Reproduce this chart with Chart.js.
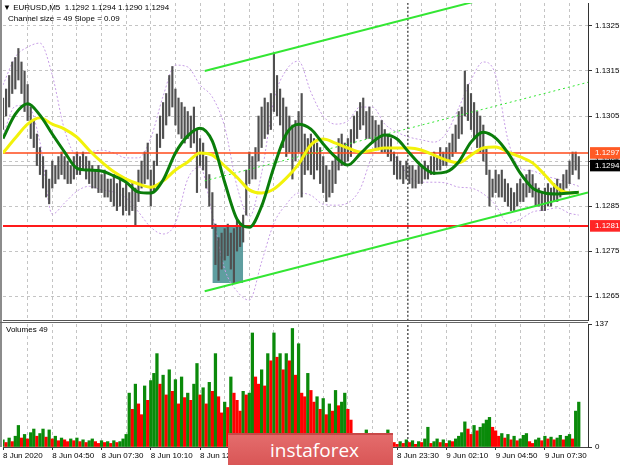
<!DOCTYPE html>
<html>
<head>
<meta charset="utf-8">
<script src="https://cdn.jsdelivr.net/npm/chart.js@4.4.1/dist/chart.umd.min.js"></script>
<style>
  html, body { margin: 0; padding: 0; background: #fff; }
  #wrap { position: relative; width: 620px; height: 465px; overflow: hidden; font-family: "Liberation Sans", Arial, sans-serif; }
  canvas { position: absolute; left: 0; }
  #prixChart { top: 0; }
  #volChart { top: 300px; }
  .txt { position: absolute; font-size: 8px; line-height: 9px; color: #000; white-space: pre; }
  .cadre { position: absolute; background: #8c8c8c; }
  #logo {
    position: absolute; left: 228px; top: 433px; width: 165px; height: 32px;
    background: linear-gradient(to bottom, #e46c6c, #d95656);
    border-top: 2px solid #c94848; box-sizing: border-box;
    color: #fff; font-family: "Open Sans", sans-serif; font-size: 19px; line-height: 30px;
    padding-left: 42px;
  }
</style>
</head>
<body>
<div id="wrap">
  <canvas id="prixChart" width="620" height="322"></canvas>
  <canvas id="volChart" width="620" height="165"></canvas>
  <div class="cadre" style="left:0;top:0;width:2px;height:447px"></div>
  <div class="cadre" style="left:0;top:322px;width:588px;height:1px;background:#666"></div>
  <div class="txt" id="entete" style="left:3px;top:3px"></div>
  <div class="txt" style="left:8px;top:14px">Channel size = 49 Slope = 0.09</div>
  <div class="txt" style="left:6px;top:325px">Volumes 49</div>
  <div id="logo">instaforex</div>
</div>
<script>
// ==================== DONNÉES ====================

// ÉTIQUETTES DE TEMPS (UNE TOUTES LES 32 BOUGIES M5)
const timeLabels = ["8 Jun 2020", "8 Jun 04:50", "8 Jun 07:30", "8 Jun 10:10", "8 Jun 12:50", "8 Jun 15:30",
    "8 Jun 18:10", "8 Jun 20:50", "8 Jun 23:30", "9 Jun 02:10", "9 Jun 04:50", "9 Jun 07:30"];

// GRADUATIONS DE PRIX
const priceTicks = [1.1265, 1.1275, 1.1285, 1.1295, 1.1305, 1.1315, 1.1325];

// DERNIÈRE BOUGIE (OHLC)
const lastBar = [1.1292, 1.1294, 1.1290, 1.1294];

// PLUS HAUTS / PLUS BAS (UNE VALEUR TOUTES LES 2 BOUGIES)
const highs = [
    1.1309, 1.1311, 1.1314, 1.1317, 1.1318, 1.1320, 1.1317, 1.1315, 1.1312, 1.1307,
    1.1304, 1.1301, 1.1298, 1.1296, 1.1293, 1.1291, 1.1295, 1.1294, 1.1296, 1.1297,
    1.1296, 1.1295, 1.1294, 1.1296, 1.1297, 1.1296, 1.1297, 1.1296, 1.1295, 1.1294,
    1.1293, 1.1294, 1.1292, 1.1293, 1.1291, 1.1291, 1.1292, 1.1290, 1.1291, 1.1289,
    1.1290, 1.1288, 1.1290, 1.1289, 1.1293, 1.1295, 1.1297, 1.1299, 1.1293, 1.1295,
    1.1301, 1.1305, 1.1308, 1.1310, 1.1314, 1.1316, 1.1311, 1.1309, 1.1308, 1.1307,
    1.1306, 1.1305, 1.1307, 1.1302, 1.1300, 1.1299, 1.1296, 1.1292, 1.1288, 1.1281,
    1.1278, 1.1279, 1.1280, 1.1281, 1.1279, 1.1280, 1.1282, 1.1281, 1.1283, 1.1293,
    1.1297, 1.1296, 1.1298, 1.1305, 1.1307, 1.1309, 1.1308, 1.1310, 1.1319, 1.1314,
    1.1311, 1.1309, 1.1307, 1.1305, 1.1303, 1.1304, 1.1306, 1.1310, 1.1301, 1.1300,
    1.1301, 1.1300, 1.1299, 1.1298, 1.1296, 1.1294, 1.1293, 1.1295, 1.1296, 1.1300,
    1.1301, 1.1299, 1.1300, 1.1302, 1.1305, 1.1306, 1.1308, 1.1309, 1.1306, 1.1307,
    1.1305, 1.1304, 1.1303, 1.1304, 1.1302, 1.1301, 1.1300, 1.1297, 1.1296, 1.1295,
    1.1294, 1.1295, 1.1294, 1.1294, 1.1293, 1.1294, 1.1294, 1.1295, 1.1294, 1.1296,
    1.1297, 1.1296, 1.1298, 1.1297, 1.1298, 1.1299, 1.1301, 1.1303, 1.1306, 1.1307,
    1.1315, 1.1312, 1.1310, 1.1308, 1.1306, 1.1305, 1.1303, 1.1298, 1.1293, 1.1291,
    1.1293, 1.1292, 1.1293, 1.1291, 1.1290, 1.1289, 1.1288, 1.1290, 1.1291, 1.1290,
    1.1292, 1.1293, 1.1292, 1.1290, 1.1289, 1.1288, 1.1289, 1.1290, 1.1289, 1.1290,
    1.1291, 1.1290, 1.1292, 1.1293, 1.1295, 1.1297, 1.1297, 1.1296
];
const lows = [
    1.1302, 1.1305, 1.1307, 1.1310, 1.1311, 1.1313, 1.1310, 1.1306, 1.1304, 1.1300,
    1.1298, 1.1294, 1.1292, 1.1289, 1.1287, 1.12855, 1.1289, 1.1290, 1.1291, 1.1292,
    1.1291, 1.1290, 1.1290, 1.1291, 1.1292, 1.1292, 1.1293, 1.1291, 1.1290, 1.1289,
    1.1289, 1.1288, 1.1288, 1.1287, 1.1287, 1.1286, 1.1285, 1.1284, 1.1285, 1.1283,
    1.1284, 1.1283, 1.1284, 1.12806, 1.1286, 1.1289, 1.1290, 1.1291, 1.1285, 1.1288,
    1.1294, 1.1298, 1.1300, 1.1303, 1.1305, 1.1307, 1.1303, 1.1301, 1.1300, 1.1299,
    1.1300, 1.1298, 1.1299, 1.1288, 1.1294, 1.1293, 1.1289, 1.1285, 1.1280, 1.1272,
    1.12685, 1.1271, 1.1273, 1.1274, 1.1271, 1.12679, 1.1275, 1.1276, 1.1277, 1.1283,
    1.1290, 1.1291, 1.1291, 1.1295, 1.1298, 1.1300, 1.1301, 1.1302, 1.1306, 1.1305,
    1.1303, 1.1298, 1.1296, 1.1297, 1.1291, 1.1295, 1.1297, 1.1287, 1.1292, 1.1293,
    1.1292, 1.1291, 1.1293, 1.1290, 1.1288, 1.1286, 1.1287, 1.1288, 1.1290, 1.1293,
    1.1294, 1.1294, 1.1295, 1.1296, 1.1299, 1.1300, 1.1302, 1.1303, 1.1300, 1.1300,
    1.1299, 1.1298, 1.1298, 1.1297, 1.1297, 1.1296, 1.1295, 1.1292, 1.1291, 1.1291,
    1.1290, 1.1291, 1.1290, 1.1289, 1.1289, 1.1290, 1.1290, 1.1291, 1.1291, 1.1292,
    1.1292, 1.1293, 1.1293, 1.1294, 1.1294, 1.1295, 1.1296, 1.1297, 1.1300, 1.1301,
    1.1305, 1.1304, 1.1302, 1.1300, 1.1298, 1.1297, 1.1295, 1.1292, 1.1285, 1.1287,
    1.1288, 1.1287, 1.1287, 1.1286, 1.1285, 1.1284, 1.1284, 1.1285, 1.1286, 1.1286,
    1.1287, 1.1288, 1.1287, 1.1285, 1.1285, 1.1284, 1.1284, 1.1285, 1.1285, 1.1286,
    1.1286, 1.1287, 1.1288, 1.1289, 1.1290, 1.1292, 1.1293, 1.1291
];

// VOLUMES (MÊMES BOUGIES)
const volumes = [
    8, 5, 10, 6, 12, 24, 10, 14, 9, 16,
    20, 12, 15, 20, 11, 19, 9, 12, 7, 10,
    8, 6, 9, 7, 10, 6, 8, 5, 7, 9,
    6, 4, 7, 5, 6, 4, 7, 5, 6, 9,
    14, 60, 42, 70, 48, 36, 68, 52, 74, 82,
    104, 70, 80, 58, 86, 62, 75, 48, 78, 55,
    60, 52, 70, 93, 58, 66, 48, 72, 62, 104,
    56, 38, 50, 44, 78, 60, 52, 40, 62, 58,
    60, 127, 78, 70, 86, 68, 104, 96, 127, 100,
    104, 86, 104, 96, 132, 80, 115, 60, 56, 82,
    63, 50, 56, 42, 54, 36, 48, 40, 63, 46,
    50, 60, 42, 30, 8, 6, 10, 5, 19, 8,
    12, 14, 6, 9, 4, 19, 15, 5, 3, 6,
    4, 8, 5, 7, 3, 6, 5, 9, 22, 4,
    6, 9, 5, 8, 4, 7, 6, 9, 12, 16,
    28, 20, 14, 24, 18, 22, 26, 30, 33, 22,
    18, 12, 15, 10, 14, 8, 12, 7, 9, 13,
    15, 6, 4, 8, 10, 7, 12, 9, 11, 8,
    10, 13, 8, 12, 14, 9, 40, 50
];

// MOYENNES MOBILES ET BANDES (LUES TOUTES LES 8 BOUGIES)
const maBars = [0, 8, 16, 24, 32, 40, 48, 56, 64, 72, 80, 88, 96, 104, 112, 120, 128, 136, 144, 152, 160, 168,
    176, 184, 192, 200, 208, 216, 224, 232, 240, 248, 256, 264, 272, 280, 288, 296, 304, 312, 320, 328, 336,
    344, 352, 360, 368, 374];
const maGreen = [1.1300, 1.13054, 1.13077, 1.13052, 1.1301, 1.1297, 1.12934, 1.1293, 1.12928, 1.12917,
    1.12903, 1.12881, 1.12879, 1.12908, 1.12968, 1.13006, 1.13023, 1.12994, 1.12903, 1.12821,
    1.12803, 1.1285, 1.12937, 1.1301, 1.13032, 1.13021, 1.12988, 1.12959, 1.12941, 1.12966,
    1.12992, 1.13008, 1.12999, 1.12968, 1.12939, 1.12923, 1.12926, 1.12948, 1.12992, 1.13014,
    1.13001, 1.12968, 1.12923, 1.1289, 1.12879, 1.12877, 1.12879, 1.12881];
const maYellow = [1.12968, 1.13001, 1.13032, 1.13046, 1.13032, 1.13021, 1.13003, 1.12974, 1.12948, 1.12926,
    1.1291, 1.12899, 1.12892, 1.12906, 1.1293, 1.12948, 1.12968, 1.12963, 1.12939, 1.12914,
    1.12886, 1.12879, 1.12888, 1.12912, 1.12943, 1.12986, 1.12999, 1.1299, 1.12979, 1.1297,
    1.12974, 1.12979, 1.12979, 1.12979, 1.12974, 1.12963, 1.12952, 1.12946, 1.12963, 1.12979,
    1.12981, 1.1297, 1.12959, 1.12946, 1.12919, 1.1289, 1.12879, 1.12881];
const bandUpper = [1.13119, 1.13181, 1.13203, 1.13212, 1.13141, 1.13019, 1.12963, 1.1297, 1.12974, 1.12968,
    1.12957, 1.12957, 1.13001, 1.13094, 1.13163, 1.13159, 1.13119, 1.13092, 1.13026, 1.12894,
    1.12826, 1.12923, 1.13086, 1.13152, 1.13172, 1.13103, 1.1305, 1.13032, 1.13039, 1.1307,
    1.1307, 1.13032, 1.13014, 1.13003, 1.12997, 1.12992, 1.13012, 1.13068, 1.1313, 1.1317,
    1.13141, 1.12997, 1.12934, 1.12928, 1.12917, 1.1291, 1.12901, 1.12894];
const bandLower = [1.13008, 1.13072, 1.13074, 1.12992, 1.12832, 1.12857, 1.12883, 1.12894, 1.12886, 1.12881,
    1.12868, 1.12837, 1.12803, 1.12788, 1.12812, 1.1291, 1.12937, 1.1283, 1.1271, 1.12661,
    1.12641, 1.12726, 1.12812, 1.12854, 1.12879, 1.12874, 1.12854, 1.12852, 1.12857, 1.12888,
    1.12961, 1.12977, 1.12954, 1.12914, 1.12903, 1.12903, 1.12901, 1.12892, 1.1289, 1.12877,
    1.12852, 1.12812, 1.12821, 1.12837, 1.12841, 1.12846, 1.12834, 1.1283];

// CANAL DE RÉGRESSION
const channelBars = [131, 380];
const channelTop = [1.1315, 1.13369];
const channelMid = [1.12906, 1.13125];
const channelBottom = [1.12661, 1.1288];

// NIVEAUX HORIZONTAUX ET RECTANGLE
const levelOrange = 1.12968;
const levelRed = 1.12806;
const lastPrice = lastBar[3];
const rectBars = [136, 156];
const rectPrices = [1.12679, 1.12806];
const separatorBar = 263;
const volumeMax = 137;

// ==================== RÉGLAGES COMMUNS ====================
Chart.defaults.font.family = "'Liberation Sans', Arial, sans-serif";
Chart.defaults.font.size = 8;
Chart.defaults.color = "#000";

const xMax = 380;
const gridBars = [];
for (let b = 0; b <= 368; b += 16) gridBars.push(b);

const tagColors = {};
tagColors[levelOrange.toFixed(4)] = "#ff5a24";
tagColors[levelRed.toFixed(4)] = "#ff2626";
tagColors[lastPrice.toFixed(4)] = "#000000";

const hLine = (value, from, to) => [{ x: from, y: value }, { x: to, y: value }];
const series = (ys) => maBars.map((b, i) => ({ x: b, y: ys[i] }));

// PAS DE MARGE AUTOMATIQUE POUR LES ÉTIQUETTES
const noPad = (scale) => {
    scale.paddingTop = 0;
    scale.paddingBottom = 0;
    scale.paddingLeft = 0;
    scale.paddingRight = 0;
};

// EN-TÊTE
document.getElementById("entete").textContent = "\u25BC EURUSD,M5  " + lastBar.map(v => v.toFixed(4)).join(" ");

// ==================== GRAPHIQUE DES PRIX ====================
new Chart(document.getElementById("prixChart"), {
    type: "bar",
    data: {
        datasets: [
            {
                type: "line",
                data: rectBars.map(b => ({ x: b, y: rectPrices[1] })),
                fill: { value: rectPrices[0] },
                backgroundColor: "#5f9ea0",
                borderWidth: 0,
                pointRadius: 0,
                order: 9
            },
            {
                type: "line",
                data: hLine(lastPrice, 0, xMax),
                borderColor: "#c0c0c0",
                borderWidth: 1,
                pointRadius: 0,
                order: 8
            },
            {
                type: "line",
                data: series(bandUpper),
                borderColor: "#c79ee6",
                borderWidth: 1,
                borderDash: [2, 2],
                pointRadius: 0,
                cubicInterpolationMode: "monotone",
                order: 7
            },
            {
                type: "line",
                data: series(bandLower),
                borderColor: "#c79ee6",
                borderWidth: 1,
                borderDash: [2, 2],
                pointRadius: 0,
                cubicInterpolationMode: "monotone",
                order: 7
            },
            {
                type: "bar",
                data: highs.map((h, i) => ({ x: i * 2, y: [lows[i], h] })),
                backgroundColor: "#505050",
                barThickness: 1.5,
                order: 6
            },
            {
                type: "line",
                data: hLine(levelOrange, 0, xMax),
                borderColor: "#ff4a1a",
                borderWidth: 1.5,
                pointRadius: 0,
                order: 5
            },
            {
                type: "line",
                data: hLine(levelRed, 0, xMax),
                borderColor: "#ff1a1a",
                borderWidth: 2,
                pointRadius: 0,
                order: 5
            },
            {
                type: "line",
                data: [{ x: separatorBar, y: 1.12 }, { x: separatorBar, y: 1.14 }],
                borderColor: "#000",
                borderWidth: 1,
                borderDash: [2, 2],
                pointRadius: 0,
                order: 4
            },
            {
                type: "line",
                data: channelBars.map((b, i) => ({ x: b, y: channelTop[i] })),
                borderColor: "#33e633",
                borderWidth: 2,
                pointRadius: 0,
                order: 3
            },
            {
                type: "line",
                data: channelBars.map((b, i) => ({ x: b, y: channelBottom[i] })),
                borderColor: "#33e633",
                borderWidth: 2,
                pointRadius: 0,
                order: 3
            },
            {
                type: "line",
                data: channelBars.map((b, i) => ({ x: b, y: channelMid[i] })),
                borderColor: "#33e633",
                borderWidth: 1,
                borderDash: [2, 3],
                pointRadius: 0,
                order: 3
            },
            {
                type: "line",
                data: series(maYellow),
                borderColor: "#f2f20a",
                borderWidth: 3,
                pointRadius: 0,
                cubicInterpolationMode: "monotone",
                order: 2
            },
            {
                type: "line",
                data: series(maGreen),
                borderColor: "#0a7d0a",
                borderWidth: 3,
                pointRadius: 0,
                cubicInterpolationMode: "monotone",
                order: 1
            }
        ]
    },
    options: {
        responsive: false,
        animation: false,
        devicePixelRatio: 1,
        events: [],
        layout: { padding: { left: 3, top: 3, right: 0, bottom: 2 } },
        plugins: { legend: { display: false }, tooltip: { enabled: false } },
        scales: {
            x: {
                type: "linear",
                min: 0,
                max: xMax,
                offset: false,
                afterBuildTicks: (scale) => { scale.ticks = gridBars.map(v => ({ value: v })); },
                afterFit: (scale) => { scale.height = 0; noPad(scale); },
                ticks: { display: false },
                grid: {
                    offset: false,
                    drawTicks: false,
                    color: (ctx) => ctx.tick && ctx.tick.value === 0 ? "transparent" : "#c4c4c4"
                },
                border: { display: true, color: "#555", width: 1, dash: [3, 3] }
            },
            y: {
                position: "right",
                min: 1.12597,
                max: 1.13301,
                beginAtZero: false,
                afterBuildTicks: (scale) => {
                    scale.ticks = priceTicks.concat([levelRed, levelOrange, lastPrice]).map(v => ({ value: v }));
                },
                afterFit: (scale) => { scale.width = 32; noPad(scale); },
                ticks: {
                    autoSkip: false,
                    padding: 3,
                    callback: (v) => Number(v).toFixed(4),
                    color: (ctx) => tagColors[ctx.tick.value.toFixed(4)] ? "#fff" : "#000",
                    showLabelBackdrop: true,
                    backdropColor: (ctx) => tagColors[ctx.tick.value.toFixed(4)] || "transparent",
                    backdropPadding: { left: 5, right: 3, top: 1, bottom: 1 }
                },
                grid: {
                    tickLength: 4,
                    color: (ctx) => ctx.tick && priceTicks.includes(ctx.tick.value) ? "#c4c4c4" : "transparent",
                    tickColor: (ctx) => ctx.tick && priceTicks.includes(ctx.tick.value) ? "#333" : "transparent"
                },
                border: { display: true, color: "#333", width: 1, dash: [3, 3] }
            }
        }
    }
});

// ==================== GRAPHIQUE DES VOLUMES ====================
const volColors = volumes.map((v, i) => (i > 0 && v < volumes[i - 1]) ? "#ff0000" : "#0a8a0a");

new Chart(document.getElementById("volChart"), {
    type: "bar",
    data: {
        datasets: [
            {
                type: "line",
                data: [{ x: separatorBar, y: 0 }, { x: separatorBar, y: volumeMax }],
                borderColor: "#000",
                borderWidth: 1,
                borderDash: [2, 2],
                pointRadius: 0,
                order: 2
            },
            {
                type: "bar",
                data: volumes.map((v, i) => ({ x: i * 2, y: v })),
                backgroundColor: volColors,
                barThickness: 2.6,
                order: 1
            }
        ]
    },
    options: {
        responsive: false,
        animation: false,
        devicePixelRatio: 1,
        events: [],
        layout: { padding: { left: 3, top: 24, right: 0, bottom: 0 } },
        plugins: { legend: { display: false }, tooltip: { enabled: false } },
        scales: {
            x: {
                type: "linear",
                min: 0,
                max: xMax,
                offset: false,
                afterBuildTicks: (scale) => { scale.ticks = gridBars.map(v => ({ value: v })); },
                afterFit: (scale) => { scale.height = 18; noPad(scale); },
                ticks: {
                    autoSkip: false,
                    maxRotation: 0,
                    align: "start",
                    padding: 1,
                    callback: (v) => v % 32 === 0 ? timeLabels[v / 32] : ""
                },
                grid: {
                    offset: false,
                    tickLength: 3,
                    color: (ctx) => ctx.tick && ctx.tick.value === 0 ? "transparent" : "#c4c4c4",
                    tickColor: (ctx) => ctx.tick && ctx.tick.value % 32 === 0 ? "#333" : "transparent"
                },
                border: { display: true, color: "#444", width: 1, dash: [3, 3] }
            },
            y: {
                position: "right",
                min: 0,
                max: volumeMax,
                afterBuildTicks: (scale) => { scale.ticks = [0, volumeMax].map(v => ({ value: v })); },
                afterFit: (scale) => { scale.width = 32; noPad(scale); },
                ticks: { autoSkip: false, padding: 3 },
                grid: { drawOnChartArea: false, tickLength: 4, tickColor: "#333" },
                border: { display: true, color: "#333", width: 1 }
            }
        }
    }
});
</script>
</body>
</html>
